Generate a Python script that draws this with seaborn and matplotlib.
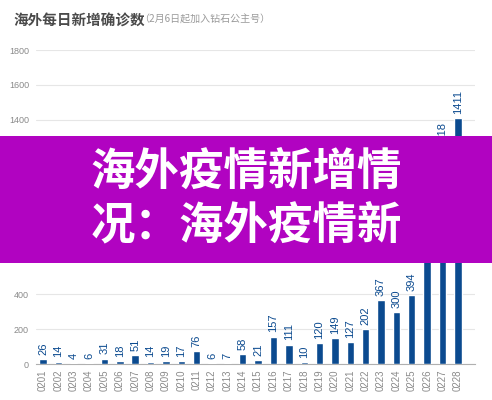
import numpy as np
import pandas as pd
import matplotlib
matplotlib.use("Agg")
import matplotlib.pyplot as plt
import seaborn as sns
from matplotlib.patches import Rectangle

# data (0226 hidden behind banner, estimated)
dates = ["0201", "0202", "0203", "0204", "0205", "0206", "0207", "0208", "0209", "0210",
         "0211", "0212", "0213", "0214", "0215", "0216", "0217", "0218", "0219", "0220",
         "0221", "0222", "0223", "0224", "0225", "0226", "0227", "0228"]
cases = [26, 14, 4, 6, 31, 18, 51, 14, 19, 17,
         76, 6, 7, 58, 21, 157, 111, 10, 120, 149,
         127, 202, 367, 300, 394, 820, 1218, 1411]
yticks = [0, 200, 400, 600, 800, 1000, 1200, 1400, 1600, 1800]

title = "海外每日新增确诊数"
subtitle = "（2月6日起加入钻石公主号）"
banner_lines = ["海外疫情新增情", "况：海外疫情新"]

sns.set_style("white")
plt.rcParams['font.family'] = ['Noto Sans CJK SC', 'DejaVu Sans']

df = pd.DataFrame({"date": dates, "cases": cases})
bar_color = "#0b4a8f"

fig = plt.figure(figsize=(4.92, 4.0), dpi=100)
ax = fig.add_axes([0.073, 0.09, 0.892, 0.785])

sns.barplot(data=df, x="date", y="cases", color=bar_color, width=0.48,
            saturation=1, ax=ax, zorder=3)
ax.bar_label(ax.containers[0], rotation=90, fontsize=8, color=bar_color,
             padding=3, family=['Liberation Sans', 'DejaVu Sans'])

ax.set_ylim(0, 1800)
ax.set_xlim(-0.46, 28.1)
ax.set_yticks(yticks)
ax.set_yticklabels([str(v) for v in yticks], fontsize=6.5, color="#8a8a8a",
                   family=['Liberation Sans', 'DejaVu Sans'])
ax.tick_params(axis="x", rotation=90, labelsize=7, labelcolor="#8a8a8a", length=0, pad=4)
ax.tick_params(axis="y", length=0, pad=5)
for lab in ax.get_xticklabels():
    lab.set_family(['Liberation Sans', 'DejaVu Sans'])
ax.grid(axis="y", color="#e6e6e6", linewidth=0.8, zorder=0)
ax.set_xlabel("")
ax.set_ylabel("")
sns.despine(ax=ax, left=True, right=True, top=True, bottom=False)
ax.spines["bottom"].set_color("#b0b0b0")
ax.spines["bottom"].set_linewidth(0.8)

fig.text(13 / 492, 1 - 21 / 400, title, fontsize=10.5, fontweight="bold",
         color="#4a4a4a", va="center", ha="left")
fig.text(139 / 492, 1 - 20 / 400, subtitle, fontsize=7.2, color="#9a9a9a",
         va="center", ha="left")

# purple banner over the chart
fig.patches.append(Rectangle((0, 1 - 263 / 400), 1, 127 / 400, transform=fig.transFigure,
                             facecolor="#b103c1", edgecolor="none", zorder=5))
fig.text(0.5, 1 - 173 / 400, banner_lines[0], fontsize=32, fontweight="heavy",
         color="white", ha="center", va="center", zorder=6)
fig.text(0.5, 1 - 226 / 400, banner_lines[1], fontsize=32, fontweight="heavy",
         color="white", ha="center", va="center", zorder=6)

fig.savefig("out.png", dpi=100)
